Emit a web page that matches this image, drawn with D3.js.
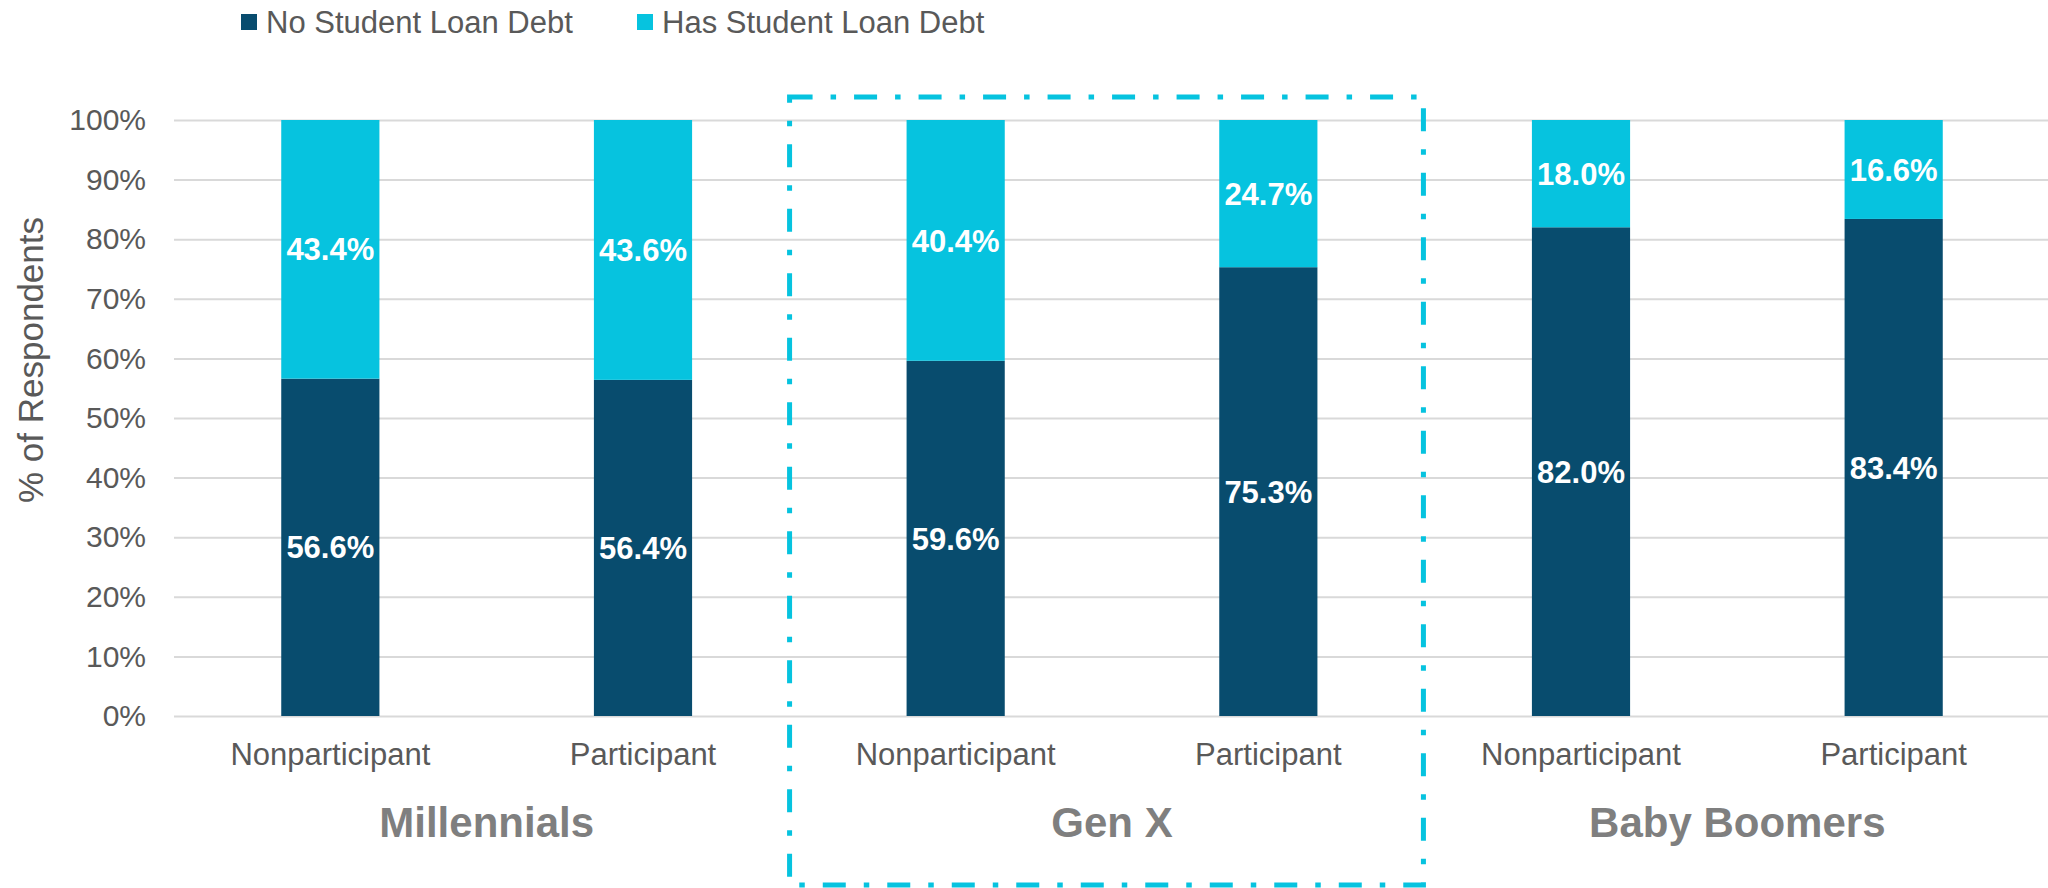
<!DOCTYPE html>
<html>
<head>
<meta charset="utf-8">
<script src="https://cdn.jsdelivr.net/npm/d3@7"></script>
<style>
  body { margin: 0; background: #fff; }
  text { font-family: "Liberation Sans", Arial, sans-serif; }
</style>
</head>
<body>
<div id="mydataviz"></div>
<script>
// chart data
var generations = ["Millennials", "Gen X", "Baby Boomers"];
var groups = ["Nonparticipant", "Participant"];
var noDebt = [56.6, 56.4, 59.6, 75.3, 82.0, 83.4];
var hasDebt = [43.4, 43.6, 40.4, 24.7, 18.0, 16.6];
var yTicks = [0, 10, 20, 30, 40, 50, 60, 70, 80, 90, 100];
var seriesNames = ["No Student Loan Debt", "Has Student Loan Debt"];

var darkBlue = "#084c6e", cyan = "#06c3df";

// set the dimensions and margins of the graph
var margin = { top: 120, right: -2, bottom: 172, left: 174 },
  width = 2048 - margin.left - margin.right,
  height = 888 - margin.top - margin.bottom;

var svg = d3.select("#mydataviz")
.append("svg")
  .attr("width", 2048)
  .attr("height", 888)
.append("g")
  .attr("transform", "translate(" + margin.left + "," + margin.top + ")");

// one band per bar
var keys = [];
generations.forEach(function (g) {
  groups.forEach(function (p) { keys.push(g + "|" + p); });
});

var rows = keys.map(function (k, i) {
  return { key: k, gen: k.split("|")[0], group: k.split("|")[1], no: noDebt[i], has: hasDebt[i] };
});

var x = d3.scaleBand()
  .range([0, width])
  .domain(keys)
  .paddingInner(0.686)
  .paddingOuter(0.343);

var y = d3.scaleLinear()
  .range([height, 0])
  .domain([0, 100]);

// y axis with gridlines
var yAxis = svg.append("g")
  .call(d3.axisLeft(y)
    .tickValues(yTicks)
    .tickSize(-width)
    .tickPadding(28)
    .tickFormat(function (d) { return d + "%"; }));
yAxis.select(".domain").remove();
yAxis.selectAll("line").attr("stroke", "#d9d9d9").attr("stroke-width", 2);
yAxis.selectAll("text")
  .attr("fill", "#595959")
  .style("font-size", "30px")
  .style("font-family", "'Liberation Sans', Arial, sans-serif");

// category labels
var xAxis = svg.append("g")
  .attr("transform", "translate(0," + height + ")")
  .call(d3.axisBottom(x)
    .tickSize(0)
    .tickPadding(27)
    .tickFormat(function (d) { return d.split("|")[1]; }));
xAxis.select(".domain").remove();
xAxis.selectAll("text")
  .attr("fill", "#595959")
  .style("font-size", "31px")
  .style("font-family", "'Liberation Sans', Arial, sans-serif");

// generation labels
svg.selectAll(".genLabel")
  .data(generations)
  .enter()
  .append("text")
    .attr("class", "genLabel")
    .attr("x", function (g) {
      return (x(g + "|" + groups[0]) + x(g + "|" + groups[1]) + x.bandwidth()) / 2;
    })
    .attr("y", height + 121)
    .attr("text-anchor", "middle")
    .attr("fill", "#7f7f7f")
    .style("font-size", "42px")
    .style("font-weight", "bold")
    .text(function (g) { return g; });

// stacked bars
svg.selectAll(".barNo")
  .data(rows)
  .enter()
  .append("rect")
    .attr("x", function (d) { return x(d.key); })
    .attr("y", function (d) { return y(d.no); })
    .attr("width", x.bandwidth())
    .attr("height", function (d) { return y(0) - y(d.no); })
    .style("fill", darkBlue);

svg.selectAll(".barHas")
  .data(rows)
  .enter()
  .append("rect")
    .attr("x", function (d) { return x(d.key); })
    .attr("y", function (d) { return y(d.no + d.has); })
    .attr("width", x.bandwidth())
    .attr("height", function (d) { return y(d.no) - y(d.no + d.has); })
    .style("fill", cyan);

// value labels
var labelStyle = function (sel) {
  sel.attr("text-anchor", "middle")
    .attr("dy", "0.36em")
    .attr("fill", "#fff")
    .style("font-size", "31px")
    .style("font-weight", "bold");
};
svg.selectAll(".lblNo")
  .data(rows)
  .enter()
  .append("text")
    .attr("x", function (d) { return x(d.key) + x.bandwidth() / 2; })
    .attr("y", function (d) { return y(d.no / 2); })
    .call(labelStyle)
    .text(function (d) { return d.no.toFixed(1) + "%"; });
svg.selectAll(".lblHas")
  .data(rows)
  .enter()
  .append("text")
    .attr("x", function (d) { return x(d.key) + x.bandwidth() / 2; })
    .attr("y", function (d) { return y(d.no + d.has / 2); })
    .call(labelStyle)
    .text(function (d) { return d.has.toFixed(1) + "%"; });

// y axis title
svg.append("text")
  .attr("transform", "translate(" + (43 - margin.left) + "," + (360 - margin.top) + ") rotate(-90)")
  .attr("text-anchor", "middle")
  .attr("fill", "#595959")
  .style("font-size", "35px")
  .text("% of Respondents");

// dash-dot highlight box around Gen X
var boxLeft = x("Gen X|" + groups[0]) - 117,
  boxRight = x("Gen X|" + groups[1]) + x.bandwidth() + 106;
svg.append("path")
  .attr("d", "M" + boxLeft + "," + (97 - margin.top) +
    "H" + boxRight + "V" + (885 - margin.top) + "H" + boxLeft + "Z")
  .attr("fill", "none")
  .attr("stroke", cyan)
  .attr("stroke-width", 5)
  .attr("stroke-dasharray", "23,18,5.5,18");

// legend
var legend = d3.select("svg").append("g");
var legendX = [241, 637];
seriesNames.forEach(function (name, i) {
  legend.append("rect")
    .attr("x", legendX[i])
    .attr("y", 14)
    .attr("width", 16)
    .attr("height", 16)
    .style("fill", i === 0 ? darkBlue : cyan);
  legend.append("text")
    .attr("x", legendX[i] + 25)
    .attr("y", 33)
    .attr("fill", "#595959")
    .style("font-size", "31px")
    .text(name);
});
</script>
</body>
</html>
